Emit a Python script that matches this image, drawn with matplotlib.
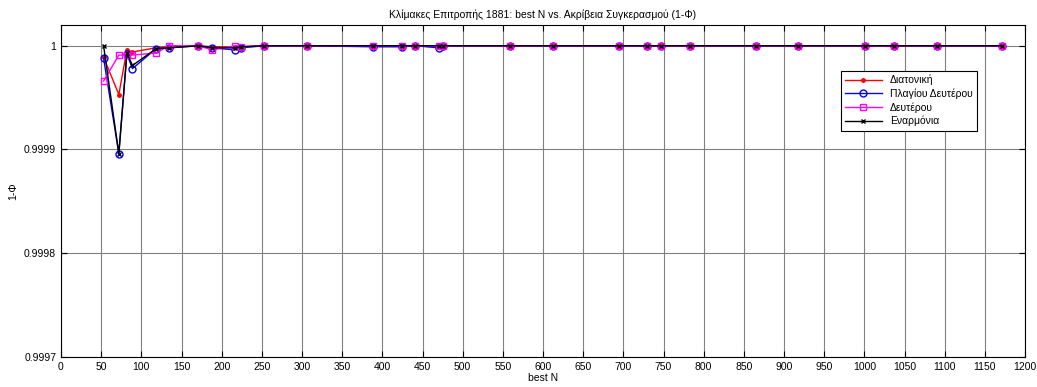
import matplotlib
matplotlib.use("Agg")
from matplotlib import pyplot as plt

plt.rcParams['font.family'] = ['Liberation Sans', 'DejaVu Sans']

best_n = [53, 72, 82, 89, 118, 135, 171, 188, 217, 224, 253, 306, 388, 425, 441,
          470, 476, 559, 612, 694, 730, 747, 783, 865, 917, 1001, 1037, 1090, 1171]

tail = [1.0] * 18
diatonic = [0.999989, 0.999953, 0.999996, 0.999994, 0.999998, 0.999999, 1.0,
            0.999999, 0.999999, 0.999999, 1.0] + tail
plagal_second = [0.999988, 0.999896, 0.999992, 0.999978, 0.999997, 0.999998, 1.0,
                 0.999998, 0.999996, 0.999998, 1.0] + [1.0, 0.999999, 0.999999, 1.0,
                 0.999998, 1.0] + [1.0] * 12
second = [0.999966, 0.999991, 0.999991, 0.999991, 0.999993, 1.0, 1.0,
          0.999996, 1.0, 0.999999, 1.0] + tail
enharmonic = [1.0, 0.999896, 0.999993, 0.999981, 0.999997, 0.999998, 1.0,
              0.999998, 0.999998, 0.999999, 1.0] + tail

labels = ["Διατονική", "Πλαγίου Δευτέρου", "Δευτέρου", "Εναρμόνια"]

fig = plt.figure(figsize=(10.37, 3.87), dpi=100)
ax = fig.add_axes([61 / 1037, 1 - 357 / 387, 964 / 1037, 332 / 387])

ax.plot(best_n, diatonic, color="red", marker=".", markersize=5, lw=1, label=labels[0])
ax.plot(best_n, plagal_second, color="blue", marker="o", markerfacecolor="none",
        markersize=5, lw=1, label=labels[1])
ax.plot(best_n, second, color="magenta", marker="s", markerfacecolor="none",
        markersize=5, lw=1, label=labels[2])
ax.plot(best_n, enharmonic, color="black", marker="x", markersize=3.5, lw=1, label=labels[3])

ax.set_xlim(0, 1200)
ax.set_ylim(0.9997, 1.00002)
ax.set_xticks(range(0, 1201, 50))
ax.set_yticks([0.9997, 0.9998, 0.9999, 1.0])
ax.set_yticklabels(["0.9997", "0.9998", "0.9999", "1"])
ax.tick_params(direction="in", labelsize=7.5, top=True, right=True, length=4)
ax.grid(True, color="#808080", lw=0.8)

ax.set_title("Κλίμακες Επιτροπής 1881: best N vs. Ακρίβεια Συγκερασμού (1-Φ)", fontsize=7.5, pad=5)
ax.set_xlabel("best N", fontsize=7.5, labelpad=1)
ax.set_ylabel("1-Φ", fontsize=7.5)

leg = ax.legend(loc="upper right", bbox_to_anchor=(0.950, 0.862), borderaxespad=0,
                fontsize=7.5, fancybox=False, framealpha=1, edgecolor="black",
                handlelength=3.5, labelspacing=0.3)
leg.get_frame().set_linewidth(0.8)

fig.savefig("out.png", dpi=100)
